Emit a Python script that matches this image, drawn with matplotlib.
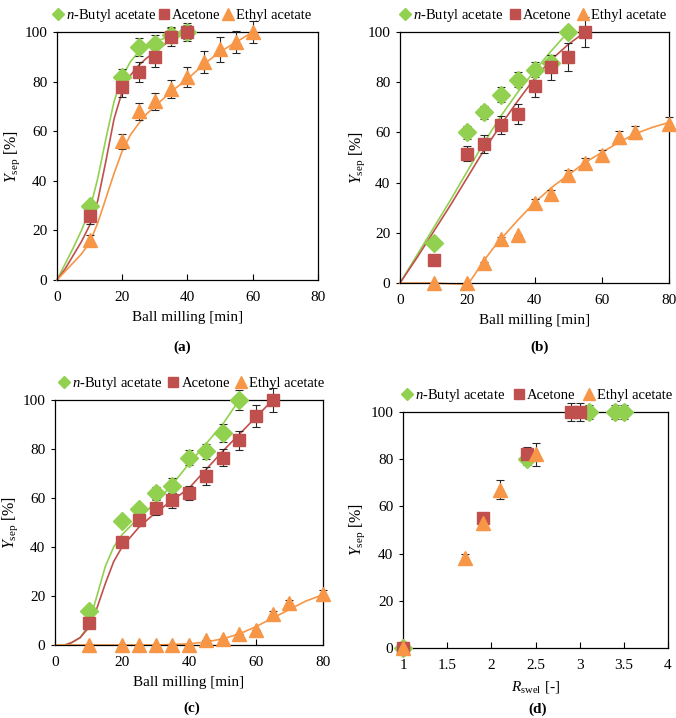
import matplotlib
matplotlib.use("Agg")
import matplotlib.pyplot as plt
from matplotlib.lines import Line2D

plt.rcParams['font.family'] = ['Liberation Serif', 'DejaVu Serif']
plt.rcParams['mathtext.fontset'] = 'custom'
plt.rcParams['mathtext.rm'] = 'Liberation Serif'
plt.rcParams['mathtext.it'] = 'Liberation Serif:italic'
plt.rcParams['font.size'] = 10

GREEN = '#92D050'
RED = '#C0504D'
ORANGE = '#F79646'
LABELS = ['$\\it{n}$-Butyl acetate', 'Acetone', 'Ethyl acetate']

# ---------------- Panel (a) ----------------
a_bu_x = [10, 20, 25, 30, 35, 40]
a_bu_y = [30, 82, 94, 95, 99, 100]
a_bu_e = [0, 3, 3.5, 4, 3, 3]
a_ac_x = [10, 20, 25, 30, 35, 40]
a_ac_y = [26, 78, 84, 90, 98, 100]
a_ac_e = [3.5, 4, 4, 4, 3.5, 3.5]
a_et_x = [10, 20, 25, 30, 35, 40, 45, 50, 55, 60]
a_et_y = [16, 56, 68, 72, 77, 82, 88, 93, 96, 100]
a_et_e = [2, 3, 3.5, 3.5, 3.5, 4, 4.5, 5, 4.5, 4.5]
a_bu_fit_x = [0, 2.5, 5, 7.5, 10, 12.5, 15, 17.5, 20, 22.5, 25, 27.5, 30, 35, 40, 42]
a_bu_fit_y = [0, 6.5, 13, 20, 28, 41, 57, 72, 82, 88, 92, 94.5, 96, 98.5, 100, 100.5]
a_ac_fit_x = [0, 2.5, 5, 7.5, 10, 12.5, 15, 17.5, 20, 22.5, 25, 27.5, 30, 35, 40]
a_ac_fit_y = [0, 4.5, 10, 15.5, 22, 32, 48, 65, 76, 82.5, 86.5, 89.5, 92, 97, 100]
a_et_fit_x = [0, 2.5, 5, 7.5, 10, 12.5, 15, 17.5, 20, 22.5, 25, 27.5, 30, 35, 40, 45, 50, 55, 60]
a_et_fit_y = [0, 3.5, 7, 10.5, 15, 23, 33, 43, 52, 58.5, 63, 67, 70, 76, 81, 87, 92, 96, 100]

# ---------------- Panel (b) ----------------
b_bu_x = [10, 20, 25, 30, 35, 40, 45, 50]
b_bu_y = [16, 60, 68, 75, 81, 85, 87.5, 100]
b_bu_e = [0, 2.5, 2.5, 3, 3, 3, 3.5, 0]
b_ac_x = [10, 20, 25, 30, 35, 40, 45, 50, 55]
b_ac_y = [9, 51.5, 55.5, 63, 67.5, 78.5, 86, 90, 100]
b_ac_e = [0, 3, 3.5, 3.5, 4, 4.5, 5, 5.5, 6]
b_et_x = [10, 20, 25, 30, 35, 40, 45, 50, 55, 60, 65, 70, 80]
b_et_y = [0, 0, 8, 17.5, 19, 32, 35.5, 43, 48, 51, 58, 60, 63.5]
b_et_e = [0, 0, 0.5, 1, 0, 1.5, 1.5, 2, 2, 2, 2.5, 2.5, 2.5]
b_bu_fit_x = [0, 5, 10, 15, 20, 25, 30, 35, 40, 45, 50]
b_bu_fit_y = [0, 11, 22, 33, 44.5, 56, 66.5, 76, 84.5, 92.5, 100]
b_ac_fit_x = [0, 5, 10, 15, 20, 25, 30, 35, 40, 45, 50, 55]
b_ac_fit_y = [0, 10, 20.5, 31, 42, 53, 63, 72.5, 81.5, 89, 95, 100]
b_et_fit_x = [0, 5, 10, 15, 20, 21, 22.5, 25, 27.5, 30, 35, 40, 45, 50, 55, 60, 65, 70, 75, 80]
b_et_fit_y = [0, 0, 0, -0.3, -0.5, 1, 4, 9, 13.5, 17.5, 25, 32, 38, 43, 48, 52, 56, 59.5, 62, 64]

# ---------------- Panel (c) ----------------
c_bu_x = [10, 20, 25, 30, 35, 40, 45, 50, 55]
c_bu_y = [14, 50.5, 55.5, 62, 65, 76.5, 79, 86.5, 100]
c_bu_e = [0, 2, 2, 2.5, 3, 3, 3, 3.5, 4]
c_ac_x = [10, 20, 25, 30, 35, 40, 45, 50, 55, 60, 65]
c_ac_y = [9, 42, 51, 56, 59, 62, 69, 76.5, 83.5, 93.5, 100]
c_ac_e = [0, 2, 2.5, 3, 3, 3, 3.5, 3.5, 4, 4.5, 5]
c_et_x = [10, 20, 25, 30, 35, 40, 45, 50, 55, 60, 65, 70, 80]
c_et_y = [0, 0, 0, 0, 0, 0, 2, 2.5, 4.5, 6, 12.5, 17, 21]
c_et_e = [0, 0, 0, 0, 0, 0, 0, 0, 0, 0, 1.5, 1.5, 1.5]
c_bu_fit_x = [3, 5, 7.5, 10, 12.5, 15, 17.5, 20, 25, 30, 35, 40, 45, 50, 55]
c_bu_fit_y = [0, 1, 3, 8, 20, 32, 40, 45, 52, 58, 65.5, 74, 82, 90, 100]
c_ac_fit_x = [3, 5, 7.5, 10, 12.5, 15, 17.5, 20, 25, 30, 35, 40, 45, 50, 55, 60, 65]
c_ac_fit_y = [0, 1, 3, 7, 15, 25, 34, 40, 48, 54, 59, 64, 71.5, 79, 86, 93, 100]
c_et_fit_x = [0, 10, 20, 30, 35, 40, 45, 50, 55, 60, 65, 70, 75, 80]
c_et_fit_y = [0, 0, 0, 0, 0.2, 0.5, 1.2, 2.5, 4.5, 7.5, 11, 14.5, 18, 20.5]

# ---------------- Panel (d) ----------------
d_bu_x = [1, 2.4, 3.1, 3.4, 3.5]
d_bu_y = [0, 80, 100, 100, 100]
d_bu_e = [0, 2.5, 3, 3, 3]
d_ac_x = [1, 1.9, 2.4, 2.9, 3.0]
d_ac_y = [0, 55, 82, 100, 100]
d_ac_e = [0, 2, 3, 4, 4]
d_et_x = [1, 1.7, 1.9, 2.1, 2.5]
d_et_y = [0, 38, 53, 67, 82]
d_et_e = [0, 2, 3, 4, 5]

fig = plt.figure(figsize=(6.76, 7.18), dpi=100)

ax_a = fig.add_axes([0.0843, 0.610, 0.386, 0.3454])
ax_b = fig.add_axes([0.5917, 0.6058, 0.398, 0.3496])
ax_c = fig.add_axes([0.0814, 0.1017, 0.3964, 0.3412])
ax_d = fig.add_axes([0.5962, 0.0975, 0.392, 0.3287])

MS = {'D': 9.5, 's': 8.5, '^': 10}


def series(ax, x, y, e, fx, fy, color, marker):
    if fx is not None:
        ax.plot(fx, fy, color=color, lw=1.2, zorder=2, clip_on=False)
    ax.errorbar(x, y, yerr=e, fmt='none', ecolor='#262626', elinewidth=0.8,
                capsize=3, capthick=0.8, zorder=3, clip_on=False)
    ax.plot(x, y, linestyle='none', marker=marker, ms=MS[marker], color=color,
            mec=color, zorder=4, clip_on=False)


def style(ax, xlim, xticks, xlabel, legend_x, ylab_x, colsp):
    ax.set_xlim(*xlim)
    ax.set_ylim(0, 100)
    ax.set_xticks(xticks)
    ax.set_yticks([0, 20, 40, 60, 80, 100])
    ax.tick_params(axis='x', direction='in', length=4, width=0.8, labelsize=11, pad=8)
    ax.tick_params(axis='y', direction='out', length=3, width=0.8, labelsize=11, pad=4)
    for s in ax.spines.values():
        s.set_linewidth(0.9)
    ax.set_ylabel('$\\it{Y}_{\\rm sep}$ [%]', fontsize=11.5)
    ax.yaxis.set_label_coords(ylab_x, 0.5)
    ax.set_xlabel(xlabel, fontsize=11, labelpad=5)
    handles = [Line2D([], [], ls='none', marker='D', color=GREEN, ms=6),
               Line2D([], [], ls='none', marker='s', color=RED, ms=7),
               Line2D([], [], ls='none', marker='^', color=ORANGE, ms=8)]
    ax.legend(handles, LABELS, ncol=3, loc='lower left', bbox_to_anchor=(legend_x, 1.0),
              frameon=False, fontsize=10.5, handlelength=0.5, handletextpad=0.3,
              columnspacing=colsp, borderaxespad=0.55, borderpad=0.0)


series(ax_a, a_bu_x, a_bu_y, a_bu_e, a_bu_fit_x, a_bu_fit_y, GREEN, 'D')
series(ax_a, a_ac_x, a_ac_y, a_ac_e, a_ac_fit_x, a_ac_fit_y, RED, 's')
series(ax_a, a_et_x, a_et_y, a_et_e, a_et_fit_x, a_et_fit_y, ORANGE, '^')
style(ax_a, (0, 80), [0, 20, 40, 60, 80], 'Ball milling [min]', -0.04, -0.135, 0.25)

series(ax_b, b_bu_x, b_bu_y, b_bu_e, b_bu_fit_x, b_bu_fit_y, GREEN, 'D')
series(ax_b, b_ac_x, b_ac_y, b_ac_e, b_ac_fit_x, b_ac_fit_y, RED, 's')
series(ax_b, b_et_x, b_et_y, b_et_e, b_et_fit_x, b_et_fit_y, ORANGE, '^')
style(ax_b, (0, 80), [0, 20, 40, 60, 80], 'Ball milling [min]', -0.025, -0.123, 0.55)

series(ax_c, c_bu_x, c_bu_y, c_bu_e, c_bu_fit_x, c_bu_fit_y, GREEN, 'D')
series(ax_c, c_ac_x, c_ac_y, c_ac_e, c_ac_fit_x, c_ac_fit_y, RED, 's')
series(ax_c, c_et_x, c_et_y, c_et_e, c_et_fit_x, c_et_fit_y, ORANGE, '^')
style(ax_c, (0, 80), [0, 20, 40, 60, 80], 'Ball milling [min]', -0.01, -0.13, 0.5)

series(ax_d, d_bu_x, d_bu_y, d_bu_e, None, None, GREEN, 'D')
series(ax_d, d_ac_x, d_ac_y, d_ac_e, None, None, RED, 's')
series(ax_d, d_et_x, d_et_y, d_et_e, None, None, ORANGE, '^')
style(ax_d, (1, 4), [1, 1.5, 2, 2.5, 3, 3.5, 4], '$\\it{R}_{\\rm swel}$ [-]', -0.03, -0.136, 0.7)
ax_d.set_xticklabels(['1', '1.5', '2', '2.5', '3', '3.5', '4'])

fig.text(182 / 676, 1 - 347 / 718, '(a)', ha='center', va='center', fontsize=11, fontweight='bold')
fig.text(540 / 676, 1 - 347 / 718, '(b)', ha='center', va='center', fontsize=11, fontweight='bold')
fig.text(192 / 676, 1 - 708 / 718, '(c)', ha='center', va='center', fontsize=11, fontweight='bold')
fig.text(538 / 676, 1 - 709 / 718, '(d)', ha='center', va='center', fontsize=11, fontweight='bold')

fig.savefig('out.png', dpi=100)
